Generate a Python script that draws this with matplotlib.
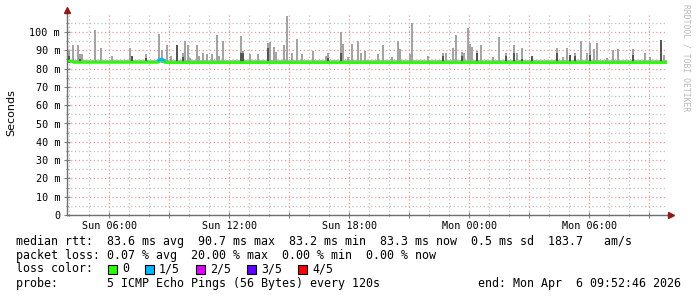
import numpy as np
import pandas as pd
import matplotlib as mpl
import matplotlib.pyplot as plt
import matplotlib.dates as mdates
from matplotlib.patches import Rectangle
from matplotlib.ticker import MultipleLocator, FuncFormatter

mono = 'DejaVu Sans Mono'

# time window: 30 hours ending Mon Apr 6 09:52:46 2026
t_start = pd.Timestamp("2026-04-05 03:52:46")
t_end = pd.Timestamp("2026-04-06 09:52:46")

# smoke spikes: hours after start, top of light smoke (ms), top of dark smoke (ms, nan = none)
smoke_hours = [0.10, 0.30, 0.55, 0.65, 0.75, 1.40, 1.70, 2.25, 3.15, 3.25, 3.95, 4.60, 4.75, 5.00,
               5.20, 5.50, 5.80, 5.90, 6.05, 6.15, 6.50, 6.60, 6.80, 7.00, 7.25, 7.50, 7.60, 7.80,
               8.70, 8.80, 9.15, 9.55, 10.05, 10.15, 10.35, 10.45, 10.85, 11.00, 11.25, 11.50, 11.75,
               12.30, 12.95, 13.05, 13.70, 13.80, 14.05, 14.25, 14.55, 14.70, 14.90, 15.55, 15.80,
               16.25, 16.55, 16.65, 17.15, 17.25, 18.05, 18.80, 18.95, 19.30, 19.45, 19.75, 19.85,
               20.05, 20.15, 20.25, 20.50, 20.70, 21.30, 21.60, 21.95, 22.35, 22.50, 22.75, 23.25,
               24.50, 24.80, 25.00, 25.15, 25.40, 25.70, 26.00, 26.15, 26.35, 26.50, 27.00, 27.30,
               27.55, 28.30, 28.90, 29.15, 29.70, 29.85]
smoke_top = [90.0, 93.0, 92.7, 88.0, 88.0, 101.0, 91.0, 87.0, 91.5, 87.0, 88.0, 99.0, 90.0, 93.0,
             87.0, 93.0, 88.7, 95.3, 93.0, 86.0, 93.0, 87.0, 88.7, 88.0, 88.0, 98.5, 87.0, 95.0,
             98.0, 89.6, 88.0, 88.0, 94.0, 94.5, 92.0, 89.0, 92.7, 109.0, 88.4, 96.4, 88.0,
             89.6, 87.0, 88.7, 100.0, 93.6, 86.5, 93.3, 95.3, 88.7, 89.6, 88.0, 93.0,
             86.5, 95.0, 90.5, 88.0, 104.7, 87.0, 88.7, 88.4, 91.0, 98.5, 89.0, 88.7,
             102.0, 93.6, 92.0, 89.6, 92.7, 86.5, 97.5, 88.7, 93.0, 88.7, 91.0, 87.0,
             91.5, 86.5, 91.0, 87.5, 88.7, 95.0, 88.7, 93.8, 90.5, 94.2, 86.0, 90.2,
             90.5, 90.5, 88.4, 86.5, 95.6, 87.6]
smoke_dark = [87.0, np.nan, np.nan, 85.5, np.nan, np.nan, np.nan, np.nan, np.nan, 87.0, 86.0, np.nan, np.nan, np.nan,
              np.nan, 93.0, 86.5, np.nan, np.nan, np.nan, np.nan, np.nan, np.nan, np.nan, np.nan, np.nan, np.nan, np.nan,
              88.4, 88.4, np.nan, np.nan, 91.5, np.nan, np.nan, np.nan, np.nan, np.nan, np.nan, np.nan, np.nan,
              np.nan, np.nan, 86.0, 88.7, np.nan, np.nan, np.nan, np.nan, np.nan, np.nan, np.nan, np.nan,
              np.nan, np.nan, np.nan, np.nan, np.nan, np.nan, 87.0, np.nan, np.nan, np.nan, 87.0, np.nan,
              np.nan, np.nan, np.nan, 88.7, np.nan, np.nan, np.nan, 87.0, 88.4, np.nan, 85.0, 87.0,
              88.4, np.nan, np.nan, 87.5, 87.0, np.nan, np.nan, 87.5, np.nan, np.nan, np.nan, np.nan,
              np.nan, 87.5, np.nan, np.nan, 95.6, np.nan]
smoke_floor = 82.9
smoke_base = 84.8

# median rtt line (ms) and the short stretch with 1/5 loss
median_hours = [0.0, 0.15, 0.35, 4.55, 4.60, 4.85, 4.90, 30.0]
median_ms = [83.8, 84.3, 83.4, 83.4, 84.6, 84.6, 83.3, 83.3]
loss_hours = [4.58, 4.70, 4.85]
loss_ms = [84.6, 85.2, 84.6]

loss_labels = ['0', '1/5', '2/5', '3/5', '4/5']
loss_colors = ['#26ff00', '#00b8ff', '#dd00ff', '#5e00ff', '#ff0000']

legend_rows = [
    "median rtt:  83.6 ms avg  90.7 ms max  83.2 ms min  83.3 ms now  0.5 ms sd  183.7   am/s",
    "packet loss: 0.07 % avg  20.00 % max  0.00 % min  0.00 % now",
    "loss color:",
    "probe:       5 ICMP Echo Pings (56 Bytes) every 120s",
]
end_label = "end: Mon Apr  6 09:52:46 2026"


def hrs(h):
    return t_start + pd.to_timedelta(np.asarray(h), unit='h')


W, H = 697, 297
y_top = 109.5
fig = plt.figure(figsize=(W / 100, H / 100), dpi=100)
ax = fig.add_axes([67 / W, 82 / H, 600 / W, y_top * 1.83 / H])

bar_w = 0.13 / 24
ax.fill_between(hrs([0, 30]), smoke_floor, smoke_base, color='#b8b8b8', lw=0, zorder=2)
ax.bar(hrs(smoke_hours), np.array(smoke_top) - smoke_floor, bottom=smoke_floor,
       width=bar_w, color='#a4a4a4', lw=0, zorder=3)
ax.bar(hrs(smoke_hours), np.array(smoke_dark) - smoke_floor, bottom=smoke_floor,
       width=bar_w * 0.8, color='#555555', lw=0, zorder=4)
ax.plot(hrs(median_hours), median_ms, color=loss_colors[0], lw=2.0, zorder=5, solid_capstyle='butt')
ax.plot(hrs(loss_hours), loss_ms, color=loss_colors[1], lw=2.0, zorder=6)

ax.set_xlim(t_start, t_end)
ax.set_ylim(0, y_top)

ax.xaxis.set_major_locator(mdates.HourLocator(byhour=range(0, 24, 3)))
ax.xaxis.set_minor_locator(mdates.HourLocator())
ax.xaxis.set_major_formatter(FuncFormatter(
    lambda v, p: mdates.num2date(v).strftime('%a %H:%M') if mdates.num2date(v).hour % 6 == 0 else ''))
ax.yaxis.set_major_locator(MultipleLocator(10))
ax.yaxis.set_minor_locator(MultipleLocator(5))
ax.yaxis.set_major_formatter(FuncFormatter(lambda v, p: '0' if v == 0 else '%d m' % v))

ax.grid(which='major', color='#eb9a9a', lw=0.9, linestyle=(0, (1, 2)), zorder=1)
ax.grid(which='minor', color='#c4c4c4', lw=0.9, linestyle=(0, (1, 2)), zorder=1)
ax.set_axisbelow(True)

for s in ['top', 'right', 'left', 'bottom']:
    ax.spines[s].set_visible(False)
ax.tick_params(which='both', colors='#808080', labelcolor='black', labelsize=7.3, direction='inout', width=0.8)
ax.tick_params(which='major', length=4)
ax.tick_params(which='minor', length=2)
ax.tick_params(axis='x', pad=2)
ax.tick_params(axis='y', pad=3)
for lab in ax.get_xticklabels() + ax.get_yticklabels():
    lab.set_family(mono)

# axis lines with rrdtool-style arrow heads
ax.plot([0, 0], [0, 1.025], transform=ax.transAxes, color='#707070', lw=1, clip_on=False, zorder=7)
ax.plot([0, 1.007], [0, 0], transform=ax.transAxes, color='#707070', lw=1, clip_on=False, zorder=7)
ax.plot([0], [1.025], transform=ax.transAxes, marker='^', ms=4, color='#8b1a1a', clip_on=False, zorder=8)
ax.plot([1.007], [0], transform=ax.transAxes, marker='>', ms=4, color='#8b1a1a', clip_on=False, zorder=8)

fig.text(11 / W, 1 - 113 / H, 'Seconds', rotation=90, ha='center', va='center', size=8)
fig.text(686 / W, 1 - 4 / H, 'RRDTOOL / TOBI OETIKER', rotation=270, ha='center', va='top',
         size=5.8, color='#b8b8b8', family=mono)

row_y = [241, 255, 269, 283]
for txt, y in zip(legend_rows, row_y):
    fig.text(16 / W, 1 - y / H, txt, ha='left', va='center', size=8.4, family=mono)
fig.text(681 / W, 1 - row_y[3] / H, end_label, ha='right', va='center', size=8.4, family=mono)

x = 108
for lab, col in zip(loss_labels, loss_colors):
    fig.patches.append(Rectangle((x / W, 1 - (row_y[2] + 4.5) / H), 9 / W, 9 / H, transform=fig.transFigure,
                                 facecolor=col, edgecolor='black', lw=0.8))
    fig.text((x + 14) / W, 1 - row_y[2] / H, lab, ha='left', va='center', size=8.4, family=mono)
    x += 14 + len(lab) * 7 + 16

fig.savefig('out.png', dpi=100)
